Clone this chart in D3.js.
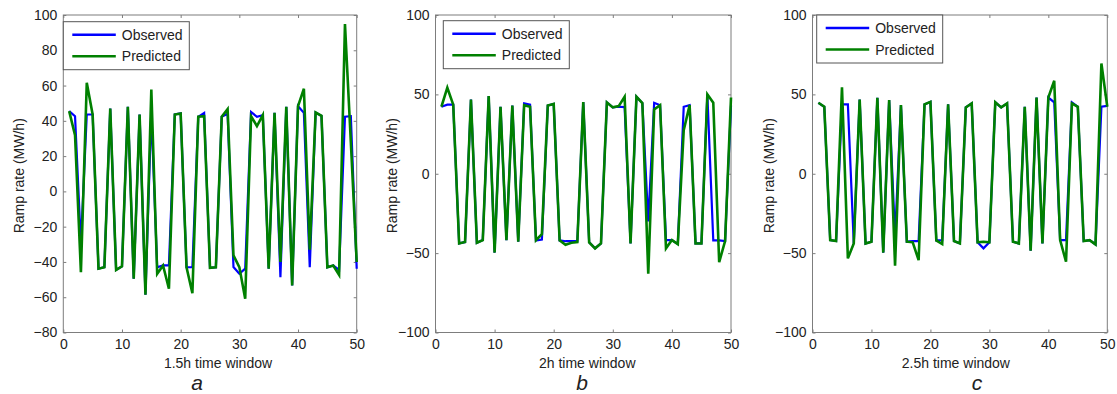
<!DOCTYPE html>
<html>
<head>
<meta charset="utf-8">
<script src="https://cdn.jsdelivr.net/npm/d3@7"></script>
<style>
body { margin: 0; background: #fff; }
svg { display: block; font-family: "Liberation Sans", Arial, Helvetica, sans-serif; }
</style>
</head>
<body>
<svg id="chart" width="1117" height="394"></svg>
<script>
// time window index (x axis)
const steps = [1,2,3,4,5,6,7,8,9,10,11,12,13,14,15,16,17,18,19,20,21,22,23,24,25,
               26,27,28,29,30,31,32,33,34,35,36,37,38,39,40,41,42,43,44,45,46,47,48,49,50]

// panel a - 1.5h
const observedA = [45.5, 42.6, -30, 43.6, 43.6, -43.8, -43, 47, -44.5, -42.5, 48, -49.5, 43.6, -58.6, 45,
  -43, -42, -42, 43.6, 44.2, -43, -43, 42.3, 44.5, -43.3, -43, 42.3, 44, -42.9, -46.7,
  -43.8, 45, 42.3, 43.2, -43.8, 44.5, -48.6, 48, -53.3, 48.3, 44.5, -43, 44.7, 42.8, -43,
  -42, -44.5, 42.3, 42.6, -43.9]
const predictedA = [45.5, 31.9, -45.8, 61.6, 43.6, -43.8, -43, 47, -44.5, -42.5, 48, -49.5, 43.6, -58.6, 57.8,
  -46.7, -42, -55.2, 43.6, 44.2, -43, -57.7, 42.3, 42.6, -43.3, -43, 42.3, 46.6, -36.3, -42.9,
  -60.9, 42.6, 37, 43.2, -43.8, 44.5, -40, 48, -53.3, 48.3, 58.2, -33, 44.7, 42.8, -43,
  -42, -47.3, 94.9, 28, -40]

// panel b - 2h
const observedB = [42.2, 43.5, 43.5, -43.9, -43, 46.8, -43.5, -41.8, 48.9, -49.7, 42.2, -41.8, 43, -42.8, 44.3,
  43.5, -42, -41.5, 43, 44, -42, -42.5, -42.5, -42.5, 45.1, -43.2, -47, -43.9, 44.9, 41.8,
  42.2, 42, -43.9, 48.5, 44.5, -30, 44.7, 43.2, -41.8, -41.8, -44.3, 42.2, 43.2, -43.9, -43.9,
  50, -42, -42, -42.4, 43]
const predictedB = [42.2, 54.2, 43.5, -43.9, -43, 46.8, -43.5, -41.8, 48.9, -49.7, 42.2, -41.8, 43, -42.8, 43.2,
  42.2, -41.8, -38, 43, 44, -42, -44.7, -43.5, -43, 45.1, -43.2, -47, -43.9, 44.9, 41.8,
  42.6, 48.5, -43.9, 48.5, 44.5, -63, 40.5, 43.2, -47, -41.8, -44.3, 27.5, 43.2, -43.9, -43.9,
  50, 44.7, -55.7, -42.4, 48]

// panel c - 2.5h
const observedC = [44.7, 42.2, -41.8, -42.4, 43.7, 43.7, -43.9, 46.8, -43.9, -42.8, 47.9, -49.7, 46.4, -40, 43.2,
  -42.8, -42.4, -42.4, 43.7, 45.3, -42, -41.8, 43.7, -42.4, -43.9, 41.8, 44.3, -43.2, -47, -43.2,
  45, 41.8, 44.3, -42.8, -43.9, 42.2, -48.5, 48, -43.9, 48, 45, -41.8, -41.8, 45, 42.2,
  -42.4, -41.8, -44.5, 42.2, 42.8]
const predictedC = [44.7, 42.2, -41.8, -42.4, 54.4, -53.3, -43.9, 46.8, -43.9, -42.8, 47.9, -49.7, 46.4, -58, 43.2,
  -42.8, -43.2, -54.4, 43.7, 45.3, -42, -44.3, 43.7, -42.4, -43.9, 41.8, 44.3, -43.2, -42.8, -43.2,
  45, 41.8, 44.3, -42.8, -43.9, 42.2, -48.5, 48, -43.9, 48, 58.6, -41.8, -55.4, 44.3, 42.2,
  -42.4, -41.8, -44.5, 69.5, 42.2]

const xTicks = [0, 10, 20, 30, 40, 50]
const yTicksA = [-80, -60, -40, -20, 0, 20, 40, 60, 80, 100]
const yTicksBC = [-100, -50, 0, 50, 100]
const windowLabels = ["1.5h time window", "2h time window", "2.5h time window"]
const panelLetters = ["a", "b", "c"]
const seriesNames = ["Observed", "Predicted"]
const seriesColors = ["#0000ff", "#008000"]

const plotTop = 15, plotBottom = 332.5
const panels = [
  {left: 63.3, right: 356.7, yDomain: [-80, 100], yTicks: yTicksA, obs: observedA, pred: predictedA, legend: [63.3, 21.7], labelShift: 8, letterX: 197},
  {left: 435.5, right: 731, yDomain: [-100, 100], yTicks: yTicksBC, obs: observedB, pred: predictedB, legend: [443.3, 20.7], labelShift: 4, letterX: 582},
  {left: 812.5, right: 1107.3, yDomain: [-100, 100], yTicks: yTicksBC, obs: observedC, pred: predictedC, legend: [816.7, 15], labelShift: -4, letterX: 977},
]

const svg = d3.select('#chart')
const textColor = "#222", boxColor = "#7d7d7d"

panels.forEach((p, k) => {
  const x = d3.scaleLinear().domain([0, 50]).range([p.left, p.right])
  const y = d3.scaleLinear().domain(p.yDomain).range([plotBottom, plotTop])
  const g = svg.append("g").attr("class", "panel")

  // axes, ticks pointing inwards on every side
  g.append("g").attr("transform", `translate(0,${plotBottom})`)
    .call(d3.axisBottom(x).tickValues(xTicks).tickSize(-3).tickPadding(7))
  g.append("g").attr("transform", `translate(0,${plotTop})`)
    .call(d3.axisTop(x).tickValues(xTicks).tickSize(-3).tickFormat(""))
  g.append("g").attr("transform", `translate(${p.left},0)`)
    .call(d3.axisLeft(y).tickValues(p.yTicks).tickSize(-3).tickPadding(6))
  g.append("g").attr("transform", `translate(${p.right},0)`)
    .call(d3.axisRight(y).tickValues(p.yTicks).tickSize(-3).tickFormat(""))
  g.selectAll(".domain").remove()
  g.selectAll(".tick line").attr("stroke", boxColor)
  g.selectAll(".tick text").attr("fill", textColor).attr("font-size", 14).attr("font-family", null)

  g.append("rect")
    .attr("x", p.left).attr("y", plotTop)
    .attr("width", p.right - p.left).attr("height", plotBottom - plotTop)
    .attr("fill", "none").attr("stroke", boxColor).attr("stroke-width", 1)

  const line = d3.line((d, i) => x(steps[i]), d => y(d))
  g.append("path").attr("d", line(p.obs))
    .attr("fill", "none").attr("stroke", seriesColors[0]).attr("stroke-width", 2.2)
  g.append("path").attr("d", line(p.pred))
    .attr("fill", "none").attr("stroke", seriesColors[1]).attr("stroke-width", 2.6)

  // labels
  const mid = (p.left + p.right) / 2
  g.append("text").attr("x", mid + p.labelShift).attr("y", 368)
    .attr("text-anchor", "middle").attr("font-size", 14).attr("fill", textColor)
    .text(windowLabels[k])
  g.append("text")
    .attr("transform", `translate(${p.left - 39},${(plotTop + plotBottom) / 2 + 2}) rotate(-90)`)
    .attr("text-anchor", "middle").attr("font-size", 14).attr("fill", textColor)
    .text("Ramp rate (MW/h)")
  g.append("text").attr("x", p.letterX).attr("y", 390)
    .attr("text-anchor", "middle").attr("font-size", 21).attr("font-style", "italic").attr("fill", textColor)
    .text(panelLetters[k])

  // legend
  const lg = g.append("g").attr("transform", `translate(${p.legend[0]},${p.legend[1]})`)
  lg.append("rect").attr("width", 126).attr("height", 48)
    .attr("fill", "#fff").attr("stroke", "#555").attr("stroke-width", 1)
  seriesNames.forEach((name, j) => {
    const ly = 13 + j * 21.5
    lg.append("line").attr("x1", 9).attr("x2", 52.5).attr("y1", ly).attr("y2", ly)
      .attr("stroke", seriesColors[j]).attr("stroke-width", 2.5)
    lg.append("text").attr("x", 58.5).attr("y", ly + 5)
      .attr("font-size", 14).attr("fill", textColor).text(name)
  })
})
</script>
</body>
</html>
